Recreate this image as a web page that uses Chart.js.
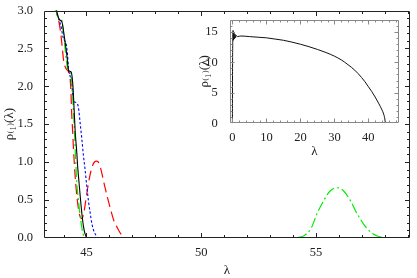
<!DOCTYPE html>
<html><head><meta charset="utf-8">
<script src="https://cdn.jsdelivr.net/npm/chart.js@4.4.1/dist/chart.umd.min.js"></script>
<style>
html,body{margin:0;padding:0;background:#fff;}
#wrap{position:relative;width:417px;height:278px;}
#main{position:absolute;left:0;top:0;}
#inset{position:absolute;left:185px;top:8px;}
</style></head>
<body>
<div id="wrap">
<canvas id="main" width="417" height="278"></canvas>
<canvas id="inset" width="224" height="152"></canvas>
</div>
<script>
// ---------- data ----------
const blackX = [43.55, 43.69, 43.82, 43.93, 44.03, 44.15, 44.22, 44.33, 44.41, 44.46, 44.51, 44.58, 44.61, 44.67, 44.73, 44.8, 44.87, 44.94, 45.02, 45.1];
const blackY = [3.25, 3.01, 2.88, 2.85, 2.67, 2.40, 2.21, 2.19, 2.01, 1.71, 1.40, 1.12, 0.97, 0.75, 0.54, 0.32, 0.15, 0.05, 0.0, 0.0];

const greenX = [43.55, 43.68, 43.78, 43.83, 43.93, 43.98, 44.05, 44.12, 44.18, 44.3, 44.36, 44.42, 44.46, 44.52, 44.58, 44.65, 44.72, 44.78, 44.83, 44.9, 45.0];
const greenY = [3.25, 3.0, 2.9, 2.88, 2.87, 2.75, 2.55, 2.35, 2.23, 2.2, 2.05, 1.75, 1.5, 1.1, 0.72, 0.5, 0.3, 0.17, 0.08, 0.01, 0];
const greenBumpX = [54.2, 54.5, 54.8, 55.05, 55.34, 55.6, 55.92, 56.2, 56.5, 56.79, 57.1, 57.4, 57.7, 58.0];
const greenBumpY = [0, 0.03, 0.13, 0.32, 0.49, 0.61, 0.66, 0.62, 0.49, 0.32, 0.17, 0.07, 0.02, 0];

const blueX = [43.55, 43.68, 43.8, 43.9, 43.98, 44.05, 44.12, 44.18, 44.22, 44.3, 44.36, 44.43, 44.5, 44.58, 44.65, 44.73, 44.8, 44.87, 44.94, 45.0, 45.09, 45.16, 45.24, 45.32, 45.4, 45.5, 45.6];
const blueY = [3.25, 3.0, 2.88, 2.78, 2.65, 2.6, 2.55, 2.4, 2.22, 2.12, 2.02, 1.82, 1.79, 1.78, 1.72, 1.5, 1.3, 1.08, 0.9, 0.72, 0.48, 0.33, 0.18, 0.09, 0.04, 0.0, 0];

const redX = [43.55, 43.68, 43.8, 43.88, 43.95, 44.0, 44.08, 44.2, 44.27, 44.32, 44.36, 44.4, 44.43, 44.51, 44.6, 44.7, 44.8, 44.88, 44.95, 45.05, 45.15, 45.25, 45.35, 45.45, 45.55, 45.65, 45.75, 45.9, 46.03, 46.2, 46.33, 46.5, 46.7, 46.8];
const redY = [3.25, 3.0, 2.85, 2.7, 2.5, 2.35, 2.25, 2.2, 2.15, 1.95, 1.62, 1.4, 1.2, 0.8, 0.5, 0.3, 0.25, 0.32, 0.45, 0.65, 0.82, 0.94, 1.0, 1.01, 0.98, 0.88, 0.74, 0.55, 0.4, 0.22, 0.14, 0.05, 0.0, 0];

const insetX = [0, 0.02, 0.1, 0.2, 0.3, 0.45, 0.6, 0.75, 0.9, 1.1, 1.5, 2.5, 5, 7.5, 10, 12.5, 15, 17.5, 20, 22.5, 25, 27.5, 30, 32, 34, 36, 38, 39, 40, 41, 42, 43, 44, 44.5, 44.85, 45.0];
const insetY = [0, 6, 13.5, 15.2, 13.6, 14.9, 13.8, 14.6, 14.0, 14.4, 14.2, 14.3, 14.2, 14.1, 14.0, 13.8, 13.6, 13.3, 12.95, 12.55, 12.1, 11.6, 11.0, 10.4, 9.6, 8.7, 7.5, 6.8, 6.0, 5.2, 4.3, 3.3, 2.2, 1.5, 0.7, 0];

const mainXTicks = [45, 50, 55];
const mainYTicks = [0, 0.5, 1.0, 1.5, 2.0, 2.5, 3.0];
const insetXTicks = [0, 10, 20, 30, 40];
const insetYTicks = [0, 5, 10, 15];

// ---------- helpers ----------
const pts = (xs, ys) => xs.map((x, i) => ({x, y: ys[i]}));
const FONT = "'Liberation Serif', 'DejaVu Serif', serif";

const framePlugin = {
  id: 'frame',
  afterDatasetsDraw(chart, args, o) {
    const {ctx, chartArea: a} = chart;
    const sx = chart.scales.x, sy = chart.scales.y;
    ctx.save();
    ctx.strokeStyle = o.color;
    ctx.lineWidth = 1;
    const L = Math.round(a.left) + 0.5, R = Math.round(a.right) - 0.5;
    const T = Math.round(a.top) + 0.5, B = Math.round(a.bottom) - 0.5;
    ctx.beginPath();
    ctx.rect(L, T, R - L, B - T);
    ctx.stroke();
    ctx.beginPath();
    const xt = (v, len) => {
      const p = Math.round(sx.getPixelForValue(v)) + 0.5;
      if (p < L || p > R) return;
      ctx.moveTo(p, B); ctx.lineTo(p, B - len);
      ctx.moveTo(p, T); ctx.lineTo(p, T + len);
    };
    const yt = (v, len) => {
      const p = Math.round(sy.getPixelForValue(v)) + 0.5;
      if (p < T - 0.1 || p > B + 0.1) return;
      ctx.moveTo(L, p); ctx.lineTo(L + len, p);
      ctx.moveTo(R, p); ctx.lineTo(R - len, p);
    };
    for (let v = Math.ceil(sx.min / o.xMinor) * o.xMinor; v <= sx.max + 1e-9; v += o.xMinor) {
      const isMaj = Math.abs(v / o.xMajor - Math.round(v / o.xMajor)) < 1e-6;
      xt(v, isMaj ? o.major : o.minor);
    }
    for (let v = Math.ceil(sy.min / o.yMinor - 1e-9) * o.yMinor; v <= sy.max + 1e-9; v += o.yMinor) {
      const isMaj = Math.abs(v / o.yMajor - Math.round(v / o.yMajor)) < 1e-6;
      yt(v, isMaj ? o.major : o.minor);
    }
    ctx.stroke();
    ctx.restore();
  }
};

const lineDS = (data, color, dash, width) => ({
  data, borderColor: color, borderDash: dash, borderWidth: width,
  pointRadius: 0, fill: false, cubicInterpolationMode: 'monotone'
});

// ---------- main chart ----------
new Chart(document.getElementById('main'), {
  type: 'line',
  data: {
    datasets: [
      lineDS(pts(blackX, blackY), '#000000', [], 1.1),
      lineDS(pts(greenX, greenY), '#00ee00', [10, 3, 2, 3], 1.2),
      lineDS(pts(greenBumpX, greenBumpY), '#00ee00', [10, 3, 2, 3], 1.2),
      lineDS(pts(blueX, blueY), '#0000ff', [2.5, 2], 1.1),
      lineDS(pts(redX, redY), '#ff0000', [10, 5], 1.2)
    ]
  },
  options: {
    responsive: false, animation: false, devicePixelRatio: 1,
    layout: {padding: {top: 7.7, right: 7, left: 0, bottom: 0}},
    plugins: {
      legend: {display: false}, tooltip: {enabled: false},
      frame: {color: '#222', xMajor: 5, xMinor: 1, yMajor: 0.5, yMinor: 0.1, major: 4.5, minor: 2.5}
    },
    scales: {
      x: {
        type: 'linear', min: 43.15, max: 59.1,
        grid: {display: false}, border: {display: false},
        afterBuildTicks: s => { s.ticks = mainXTicks.map(v => ({value: v})); },
        afterFit: s => { s.height = 40.3; },
        ticks: {padding: -0.5, color: '#222', font: {family: FONT, size: 12.5}, callback: v => String(v)},
        title: {display: true, text: 'λ', color: '#222', font: {family: FONT, size: 13}, padding: {top: 0, bottom: 0}}
      },
      y: {
        type: 'linear', min: 0, max: 3,
        grid: {display: false}, border: {display: false},
        afterBuildTicks: s => { s.ticks = mainYTicks.map(v => ({value: v})); },
        afterFit: s => { s.width = 44; },
        ticks: {padding: 3, color: '#222', font: {family: FONT, size: 12.5}, callback: v => v.toFixed(1)},
        title: {display: true, text: 'ρ₍₁₎(λ)', color: '#222', font: {family: FONT, size: 13}, padding: {top: 2, bottom: 0}}
      }
    }
  },
  plugins: [framePlugin]
});

// ---------- inset chart ----------
new Chart(document.getElementById('inset'), {
  type: 'line',
  data: {
    datasets: [ lineDS(pts(insetX, insetY), '#111', [], 1) ]
  },
  options: {
    responsive: false, animation: false, devicePixelRatio: 1,
    layout: {padding: {top: 11.3, right: 9.7, left: 0, bottom: 0}},
    plugins: {
      legend: {display: false}, tooltip: {enabled: false},
      frame: {color: '#888', xMajor: 10, xMinor: 2, yMajor: 5, yMinor: 1, major: 4, minor: 2}
    },
    scales: {
      x: {
        type: 'linear', min: -0.8, max: 49.1,
        grid: {display: false}, border: {display: false},
        afterBuildTicks: s => { s.ticks = insetXTicks.map(v => ({value: v})); },
        afterFit: s => { s.height = 36.7; },
        ticks: {padding: -1, color: '#222', font: {family: FONT, size: 12.5}, callback: v => String(v)},
        title: {display: true, text: 'λ', color: '#222', font: {family: FONT, size: 13}, padding: {top: 0, bottom: 1}}
      },
      y: {
        type: 'linear', min: 0, max: 17,
        grid: {display: false}, border: {display: false},
        afterBuildTicks: s => { s.ticks = insetYTicks.map(v => ({value: v})); },
        afterFit: s => { s.width = 44.7; },
        ticks: {padding: 4, color: '#222', font: {family: FONT, size: 12.5}, callback: v => String(v)},
        title: {display: true, text: 'ρ₍₁₎(λ)', color: '#222', font: {family: FONT, size: 13}, padding: {top: 12, bottom: 0}}
      }
    }
  },
  plugins: [framePlugin]
});
</script>
</body></html>
